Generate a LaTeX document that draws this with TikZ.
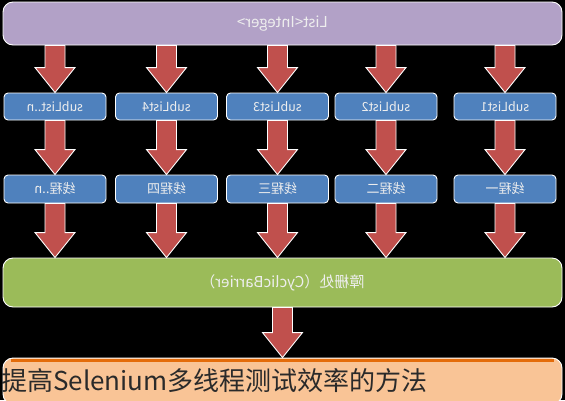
\documentclass[tikz,border=0pt]{standalone}
\usepackage{fontspec}
\usetikzlibrary{calc}
\newfontfamily\cjk{Noto Sans CJK SC}
\definecolor{Lilac}{HTML}{B2A1C7}
\definecolor{Cobalt}{HTML}{4F81BD}
\definecolor{Olive}{HTML}{9BBB59}
\definecolor{Brick}{HTML}{C0504D}
\definecolor{Peach}{HTML}{F9C496}
\definecolor{Pumpkin}{HTML}{E46C0A}
\definecolor{Ink}{HTML}{2A2A2A}
\definecolor{Chalk}{HTML}{EEEEEE}

% mirrored labels, as printed in the picture
\newcommand{\mirror}[1]{\scalebox{-1}[1]{#1}}
% fat block arrow from #1 down to #2
\newcommand{\fatarrow}[2]{%
  \draw[fatarr] let \p1=(#1), \p2=(#2) in
    (\x1-10pt,\y1) -- (\x1-10pt,\y2+25pt) -- (\x1-20pt,\y2+25pt) -- (\x1,\y2)
    -- (\x1+20pt,\y2+25pt) -- (\x1+10pt,\y2+25pt) -- (\x1+10pt,\y1) -- cycle;}

\begin{document}
\begin{tikzpicture}[x=1pt,y=-1pt,
    box/.style={draw=white,line width=0.9pt,rounded corners=4pt,text=Chalk,
      font=\cjk\fontsize{12.5}{14}\selectfont},
    bigbox/.style={box,rounded corners=10pt,minimum width=559pt,
      font=\cjk\fontsize{15}{17}\selectfont},
    fatarr/.style={draw=white,line width=0.9pt,fill=Brick,line join=miter}]
  \useasboundingbox (0,0) rectangle (565,400);
  \fill[black] (0,0) rectangle (565,400);
  \clip (0,0) rectangle (565,400);

  \node[bigbox,fill=Lilac,minimum height=43pt] (lst) at (282.5,23.5) {\mirror{List<Integer>}};

  \foreach \cx/\nm/\sl/\th in {55/n/subList..n/线程..n, 166.5/4/subList4/线程四,
      277.5/3/subList3/线程三, 386/2/subList2/线程二, 505/1/subList1/线程一} {
    \node[box,fill=Cobalt,minimum width=102pt,minimum height=27pt] (sub\nm) at (\cx,106.5) {\mirror{\sl}};
    \node[box,fill=Cobalt,minimum width=102pt,minimum height=28pt,
      font=\cjk\fontsize{13}{15}\selectfont] (thr\nm) at (\cx,189) {\mirror{\th}};
  }

  \node[bigbox,fill=Olive,minimum height=49pt] (bar) at (282.5,282.5) {\mirror{障栅处（CyclicBarrier）}};
  \node[bigbox,fill=Peach,minimum height=46pt] (res) at (282.5,381) {};
  \draw[Pumpkin,line width=3pt] ([xshift=8pt,yshift=-2.5pt]res.north west) -- ([xshift=-8pt,yshift=-2.5pt]res.north east);

  \foreach \nm in {n,4,3,2,1} {
    \fatarrow{sub\nm.north |- lst.south}{sub\nm.north}
    \fatarrow{sub\nm.south}{thr\nm.north}
    \fatarrow{thr\nm.south}{thr\nm.south |- bar.north}
  }
  \fatarrow{bar.south}{res.north}

  \node[anchor=west,inner sep=0pt,text=Ink,font=\cjk\fontsize{26}{30}\selectfont] (cap) at (1,381) {提高Selenium多线程测试效率的方法};
\end{tikzpicture}
\end{document}
